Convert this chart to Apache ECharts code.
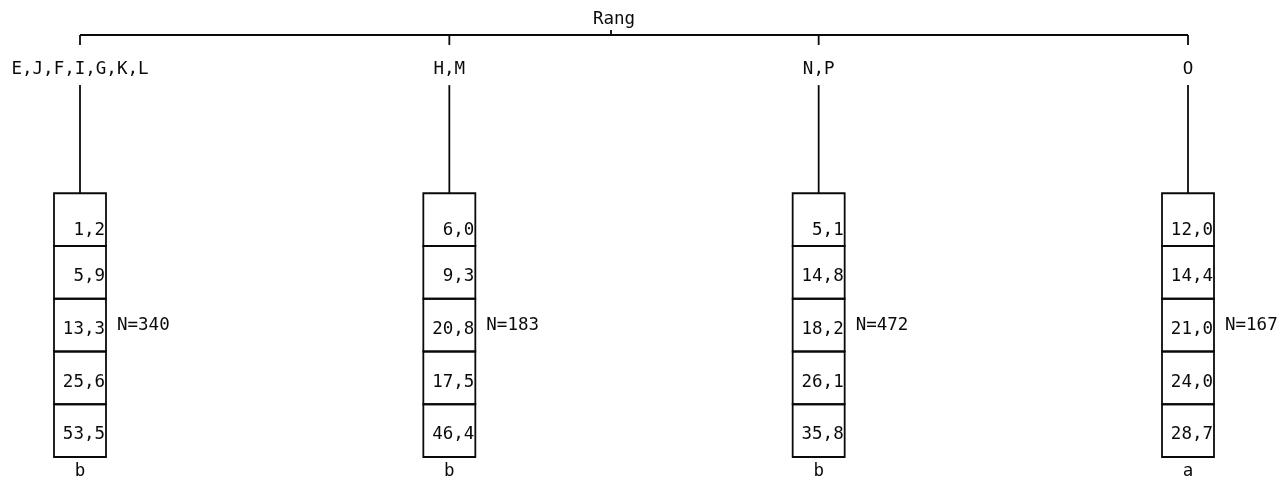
<!DOCTYPE html>
<html>
<head>
<meta charset="utf-8">
<script src="https://cdn.jsdelivr.net/npm/echarts@6/dist/echarts.min.js"></script>
<style>
  html, body { margin: 0; padding: 0; background: #fff; }
  #main { width: 1287px; height: 485px; }
</style>
</head>
<body>
<div id="main"></div>
<script>
const rootLabel = 'Rang';
const groups = ['E,J,F,I,G,K,L', 'H,M', 'N,P', 'O'];
// shares per group, top segment first
const shares = [
  [1.2, 5.9, 13.3, 25.6, 53.5],
  [6.0, 9.3, 20.8, 17.5, 46.4],
  [5.1, 14.8, 18.2, 26.1, 35.8],
  [12.0, 14.4, 21.0, 24.0, 28.7]
];
const totals = [340, 183, 472, 167];
const letters = ['b', 'b', 'b', 'a'];

const FONT = '17.5px "DejaVu Sans Mono", monospace';
const INK = '#0a0a0a';
const LW = 1.8;
const BOX_W = 52;
const SEGS = 5;

function fmt(v) {
  return v.toFixed(1).replace('.', ',');
}

const chart = echarts.init(document.getElementById('main'));

let boxData = [];
shares.forEach((arr, g) => {
  arr.forEach((v, k) => {
    boxData.push([g, k, v]);
  });
});

function renderBox(params, api) {
  const g = api.value(0);
  const k = api.value(1);
  const v = api.value(2);
  const top = api.coord([g, SEGS - k]);
  const bot = api.coord([g, SEGS - k - 1]);
  const x0 = top[0] - BOX_W / 2;
  // top segment text sits lower
  const ty = api.coord([g, SEGS - k - 1 + (k === 0 ? 0.3 : 0.42)])[1];
  return {
    type: 'group',
    children: [{
      type: 'rect',
      shape: { x: x0, y: top[1], width: BOX_W, height: bot[1] - top[1] },
      style: { fill: 'none', stroke: INK, lineWidth: LW }
    }, {
      type: 'text',
      style: {
        text: fmt(v),
        x: x0 + BOX_W - 1,
        y: ty,
        align: 'right',
        verticalAlign: 'middle',
        font: FONT,
        fill: INK
      }
    }]
  };
}

function renderTree(params, api) {
  const g = api.value(0);
  const tickTop = api.coord([g, 8]);
  const tickBot = api.coord([g, 7.81]);
  const lab = api.coord([g, 7.34]);
  const stemTop = api.coord([g, 7.05]);
  const stemBot = api.coord([g, SEGS]);
  const mid = api.coord([g, 2.5]);
  const under = api.coord([g, -0.27]);
  return {
    type: 'group',
    children: [{
      type: 'line',
      shape: { x1: tickTop[0], y1: tickTop[1], x2: tickBot[0], y2: tickBot[1] },
      style: { stroke: INK, lineWidth: LW }
    }, {
      type: 'text',
      style: { text: groups[g], x: lab[0], y: lab[1], align: 'center', verticalAlign: 'middle', font: FONT, fill: INK }
    }, {
      type: 'line',
      shape: { x1: stemTop[0], y1: stemTop[1], x2: stemBot[0], y2: stemBot[1] },
      style: { stroke: INK, lineWidth: LW }
    }, {
      type: 'text',
      style: { text: 'N=' + totals[g], x: mid[0] + BOX_W / 2 + 11, y: mid[1], align: 'left', verticalAlign: 'middle', font: FONT, fill: INK }
    }, {
      type: 'text',
      style: { text: letters[g], x: under[0], y: under[1], align: 'center', verticalAlign: 'middle', font: FONT, fill: INK }
    }]
  };
}

const option = {
  animation: false,
  backgroundColor: '#fff',
  grid: { left: 80, right: 99, top: 35, bottom: 28 },
  xAxis: { type: 'value', min: 0, max: 3, show: false },
  yAxis: { type: 'value', min: 0, max: 8, show: false },
  graphic: [{
    type: 'text',
    left: 593,
    top: 10,
    style: { text: rootLabel, font: FONT, fill: INK }
  }, {
    type: 'line',
    shape: { x1: 611, y1: 30, x2: 611, y2: 35 },
    style: { stroke: INK, lineWidth: LW }
  }],
  series: [{
    type: 'line',
    data: [[0, 8], [groups.length - 1, 8]],
    symbol: 'none',
    silent: true,
    lineStyle: { color: INK, width: LW }
  }, {
    type: 'custom',
    data: groups.map((g, i) => [i]),
    renderItem: renderTree,
    silent: true
  }, {
    type: 'custom',
    data: boxData,
    renderItem: renderBox,
    silent: true
  }]
};

chart.setOption(option);
</script>
</body>
</html>
